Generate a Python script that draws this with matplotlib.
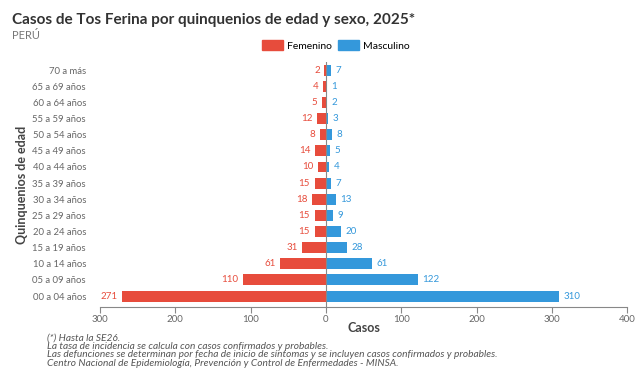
import numpy as np
import matplotlib.pyplot as plt
from matplotlib.patches import Patch

plt.rcParams['font.family'] = ['Lato', 'DejaVu Sans']

grupos = ['00 a 04 años', '05 a 09 años', '10 a 14 años', '15 a 19 años',
          '20 a 24 años', '25 a 29 años', '30 a 34 años', '35 a 39 años',
          '40 a 44 años', '45 a 49 años', '50 a 54 años', '55 a 59 años',
          '60 a 64 años', '65 a 69 años', '70 a más']
femenino = [271, 110, 61, 31, 15, 15, 18, 15, 10, 14, 8, 12, 5, 4, 2]
masculino = [310, 122, 61, 28, 20, 9, 13, 7, 4, 5, 8, 3, 2, 1, 7]
xticks = [-300, -200, -100, 0, 100, 200, 300, 400]

ROJO = '#E74C3C'
AZUL = '#3498DB'
GRIS = '#666666'

fig = plt.figure(figsize=(6.4, 3.85), dpi=100)
ax = fig.add_axes([0.156, 0.2026, 0.824, 0.636])

y = np.arange(len(grupos))
ax.barh(y, [-v for v in femenino], height=0.68, color=ROJO)
ax.barh(y, masculino, height=0.68, color=AZUL)

for i in range(len(grupos)):
    ax.text(-femenino[i] - 6, y[i], str(femenino[i]), color=ROJO,
            ha='right', va='center', fontsize=7)
    ax.text(masculino[i] + 6, y[i], str(masculino[i]), color=AZUL,
            ha='left', va='center', fontsize=7)

ax.axvline(0, color='#888888', lw=0.8)
ax.set_xlim(-300, 400)
ax.set_ylim(-0.68, len(grupos) - 0.5)
ax.set_xticks(xticks)
ax.set_xticklabels([str(abs(t)) for t in xticks], fontsize=7, color=GRIS)
ax.set_yticks(y)
ax.set_yticklabels(grupos, fontsize=6.8, color=GRIS)
ax.tick_params(axis='y', length=0, pad=10)
ax.tick_params(axis='x', length=4, color='#888888', pad=1.5)
for s in ['top', 'right', 'left']:
    ax.spines[s].set_visible(False)
ax.spines['bottom'].set_color('#888888')

ax.set_xlabel('Casos', fontsize=9, fontweight='bold', color='#444444', labelpad=-1)
fig.text(0.034, 0.52, 'Quinquenios de edad', rotation=90, fontsize=9,
         fontweight='bold', color='#444444', ha='center', va='center')

fig.text(0.019, 0.948, 'Casos de Tos Ferina por quinquenios de edad y sexo, 2025*',
         fontsize=11, fontweight='bold', color='#333333', va='center')
fig.text(0.019, 0.908, 'PERÚ', fontsize=8, color='#777777', va='center')

handles = [Patch(color=ROJO, label='Femenino'), Patch(color=AZUL, label='Masculino')]
fig.legend(handles=handles, loc='center', bbox_to_anchor=(0.525, 0.882), ncol=2,
           frameon=False, fontsize=7.5, handlelength=2.0, handleheight=1.0,
           columnspacing=0.6, handletextpad=0.4)

nota = ('(*) Hasta la SE26.\n'
        'La tasa de incidencia se calcula con casos confirmados y probables.\n'
        'Las defunciones se determinan por fecha de inicio de síntomas y se incluyen casos confirmados y probables.\n'
        'Centro Nacional de Epidemiología, Prevención y Control de Enfermedades - MINSA.')
fig.text(0.073, 0.133, nota, fontsize=7.3, style='italic', color='#555555',
         va='top', ha='left', linespacing=0.9)

fig.savefig('out.png', dpi=100)
